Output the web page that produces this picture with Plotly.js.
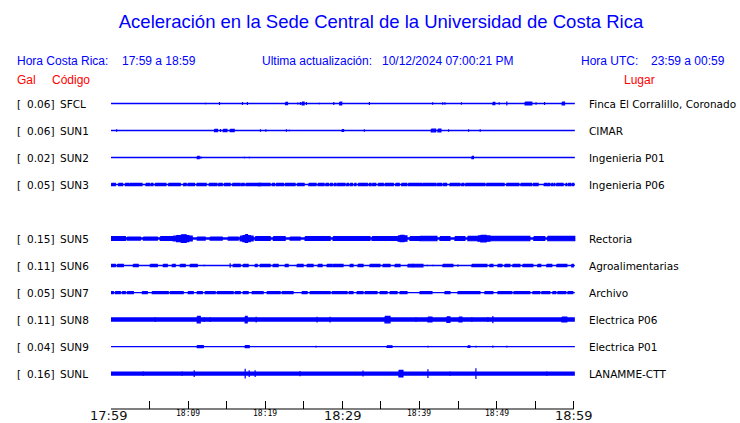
<!DOCTYPE html>
<html><head><meta charset="utf-8">
<script src="https://cdn.plot.ly/plotly-3.0.1.min.js"></script>
<style>body{margin:0;background:#fff}</style>
</head><body><div id="c" style="width:740px;height:423px"></div>
<script>
// ---------------- DATA ----------------
const codes  = ['SFCL','SUN1','SUN2','SUN3','SUN5','SUN6','SUN7','SUN8','SUN9','SUNL'];
const galMax = ['0.06','0.06','0.02','0.05','0.15','0.11','0.05','0.11','0.04','0.16'];
const places = ['Finca El Corralillo, Coronado','CIMAR','Ingenieria P01','Ingenieria P06',
                'Rectoria','Agroalimentarias','Archivo','Electrica P06','Electrica P01','LANAMME-CTT'];
const rowIdx = [0,1,2,3,5,6,7,8,9,10];
const tickMinutes = [0,5,10,15,20,25,30,35,40,45,50,55,60];
const labelMinutes = [0,10,20,30,40,50,60];
const labelText = ['17:59','18:09','18:19','18:29','18:39','18:49','18:59'];
const labelMajor = [true,false,false,true,false,false,true];
const traceEnd = 60.15; // minutes

// events: [start minute, end minute, half amplitude (relative units)]
const ev_SFCL = [[12.25,12.25,0.8],[14.07,14.07,1.4],[17.05,17.05,1.4],[17.69,17.69,1.4],[22.63,22.89,1.1],
 [24.22,24.22,1.1],[24.56,24.56,1.4],[24.78,25.04,1.4],[25.34,25.34,1.4],[27.02,27.02,0.8],[28.89,28.89,1.4],
 [29.66,29.92,1.4],[33.50,33.50,1.4],[41.71,41.71,1.3],[43.01,43.01,1.3],[43.30,43.30,1.3],[45.44,45.44,1.3],
 [49.52,49.77,1.1],[50.34,50.34,1.3],[51.33,51.33,2.0],[53.70,54.57,1.4],[55.12,55.12,1.3],[56.22,56.22,1.4],
 [58.50,58.81,1.3]];
const ev_SUN1 = [[0.73,0.73,1.3],[13.42,13.81,1.1],[14.20,14.20,1.4],[14.55,15.03,1.1],[15.45,15.97,1.1],
 [19.38,19.38,1.3],[20.08,20.08,1.3],[22.75,22.75,1.3],[23.13,23.13,0.8],[29.96,30.16,0.8],[32.85,32.85,1.3],
 [40.36,40.36,0.5],[41.53,42.10,1.3],[42.40,42.78,1.3],[43.78,43.78,1.3],[46.37,46.37,1.3],[47.88,47.88,1.3]];
const ev_SUN2 = [[11.18,11.44,1.1],[11.66,11.66,1.1],[17.31,17.31,0.8],[17.95,17.95,0.8],[46.80,47.00,1.1]];
const ev_SUN3 = [[0.04,0.56,1.1],[0.98,1.50,1.1],[1.85,2.28,1.1],[2.41,4.02,1.1],[4.53,5.00,1.1],[5.18,5.44,1.1],
 [5.74,7.12,1.1],[7.46,8.98,1.1],[9.40,9.75,1.1],[9.97,10.83,1.1],[11.14,12.34,1.1],[11.20,11.20,1.4],[12.73,13.73,1.1],
 [13.94,14.42,1.1],[14.68,15.45,1.1],[15.75,16.75,1.1],[16.92,17.27,1.1],[17.49,19.34,1.1],[19.12,20.63,1.1],
 [20.89,21.19,1.1],[21.41,22.36,1.1],[22.58,23.87,1.1],[24.17,25.04,1.1],[25.65,26.59,1.1],[26.85,27.63,1.1],
 [27.85,28.19,1.1],[28.41,28.70,1.1],[28.93,29.18,1.1],[29.35,30.35,1.1],[30.57,30.78,1.1],[31.00,31.30,1.1],
 [31.55,31.77,1.1],[32.07,33.24,1.1],[33.46,33.72,1.1],[33.89,34.33,1.1],[34.66,35.31,1.1],[35.53,36.61,1.1],
 [36.92,37.38,1.1],[37.69,38.34,1.1],[38.55,40.28,1.1],[40.41,42.14,1.1],[42.31,42.88,1.1],[43.08,43.52,1.1],
 [43.95,45.25,1.1],[45.47,45.76,1.1],[45.98,48.49,1.1],[48.70,50.98,1.1],[51.30,52.89,1.1],[53.15,54.53,1.1],
 [54.74,55.39,1.1],[56.17,56.48,1.1],[56.61,56.91,1.1],[57.12,57.25,1.1],[57.42,57.55,1.1],[57.77,58.63,1.1],
 [58.98,59.07,1.1],[59.27,59.62,1.1],[59.79,60.01,1.1]];
const ev_SUN5 = [[0.00,1.86,1.9],[2.09,3.80,1.5],[4.20,6.00,1.5],[6.39,8.07,1.9],[8.07,10.53,2.4],[8.50,10.10,3.0],
 [9.11,9.75,3.8],[11.18,12.21,1.5],[12.86,14.42,1.5],[15.19,16.49,1.5],[16.75,18.43,2.4],[17.10,18.05,3.0],
 [17.40,17.70,3.9],[18.70,20.64,1.9],[21.05,22.58,1.9],[23.23,24.52,1.5],[25.17,28.41,1.9],[28.80,33.58,1.9],
 [33.85,37.22,1.9],[37.22,38.38,2.6],[37.50,38.00,3.2],[38.77,40.06,1.9],[40.06,42.27,2.2],[42.66,43.95,1.9],
 [44.60,45.89,1.9],[46.28,47.58,2.2],[47.58,49.13,2.6],[47.95,48.65,3.3],[49.13,54.31,2.2],[54.83,56.25,1.9],
 [56.64,60.14,2.2]];
const ev_SUN6 = [[0.00,0.56,1.1],[0.82,1.59,1.1],[2.89,3.53,1.1],[5.09,6.00,1.1],[6.77,7.29,1.1],[7.94,8.33,1.1],
 [8.98,9.62,1.1],[10.27,11.18,1.1],[12.09,12.09,0.8],[15.45,15.45,2.3],[15.84,16.75,1.1],[17.14,17.78,1.1],
 [18.69,18.95,1.1],[19.34,20.63,1.1],[21.02,21.67,1.1],[22.58,22.97,1.1],[24.13,24.91,1.1],[25.43,26.20,1.1],
 [26.85,27.37,1.1],[28.02,28.67,1.1],[28.80,30.09,1.1],[31.00,31.38,1.1],[32.03,32.68,1.1],[33.58,34.87,1.1],
 [35.27,36.18,1.1],[36.83,37.47,1.1],[38.51,40.45,1.3],[39.16,39.16,1.7],[41.01,41.01,0.8],[41.75,41.75,0.8],
 [43.04,44.34,1.1],[44.99,44.99,1.1],[46.80,48.74,1.1],[49.13,49.52,1.1],[50.17,50.69,1.1],[51.07,51.72,1.1],
 [52.11,53.02,1.1],[53.41,54.71,1.1],[55.34,55.73,1.1],[56.51,57.16,1.1],[57.81,59.11,1.1],[59.75,59.95,1.3]];
const ev_SUN7 = [[0.00,0.30,1.1],[0.56,1.20,1.1],[1.46,1.85,1.1],[2.11,2.89,1.1],[4.06,4.70,1.1],[5.35,7.42,1.1],
 [7.68,9.36,1.1],[10.01,10.66,1.1],[11.18,11.83,1.1],[12.21,13.51,1.1],[13.77,15.84,1.1],[16.10,16.75,1.1],
 [17.14,17.78,1.1],[18.30,19.73,1.1],[20.25,21.93,1.1],[20.60,20.60,1.3],[22.19,23.61,1.1],[24.78,25.43,1.1],
 [25.82,28.41,1.1],[28.67,30.61,1.1],[30.87,31.38,1.1],[31.90,32.68,1.1],[32.94,34.49,1.1],[34.88,35.79,1.1],
 [36.18,37.09,1.1],[37.47,38.38,1.1],[40.06,41.62,1.1],[43.30,43.95,1.1],[44.99,47.84,1.1],[48.48,49.52,1.1],
 [50.17,51.98,1.1],[52.24,54.31,1.1],[54.70,55.60,1.1],[55.86,56.90,1.1],[57.29,57.68,1.1],[57.94,58.98,1.1],
 [59.24,59.88,1.1]];
const ev_SUN8 = [[5.74,5.74,2.4],[11.18,11.57,3.2],[12.09,12.09,2.4],[12.86,12.86,2.4],[17.40,17.66,3.2],
 [18.82,18.82,2.8],[26.72,26.72,2.8],[28.41,28.41,2.8],[35.53,36.18,3.2],[39.55,39.55,2.4],[41.10,41.62,2.4],
 [43.56,43.95,2.8],[45.12,45.51,2.4],[46.80,46.80,2.4],[48.87,48.87,2.4],[49.52,49.52,3.6],[58.47,59.11,2.4]];
const ev_SUN9 = [[11.18,11.96,1.1],[17.40,17.92,1.1],[26.59,26.59,0.8],[35.79,36.44,0.8],[41.10,41.10,0.8],
 [46.28,46.54,0.8],[47.32,47.32,0.8],[49.52,49.52,1.1],[51.33,51.33,0.8]];
const ev_SUNL = [[4.18,4.18,2.2],[9.24,9.24,2.2],[10.79,10.79,3.3],[17.40,17.40,4.8],[17.92,17.92,3.3],
 [18.69,18.69,3.3],[24.52,24.52,2.6],[32.68,32.68,3.0],[37.34,37.86,3.3],[41.10,41.10,4.3],[43.95,43.95,2.2],
 [47.32,47.32,5.3],[56.51,56.51,2.2]];
const events = [ev_SFCL,ev_SUN1,ev_SUN2,ev_SUN3,ev_SUN5,ev_SUN6,ev_SUN7,ev_SUN8,ev_SUN9,ev_SUNL];

// ---------------- STYLE / LAYOUT ----------------
const baseW = [1.4,1.4,1.4,1.4,2.4,1.4,1.4,4.5,1.4,4.2];
const AMP = 1/27;
const BLUE = '#0000ff', RED = '#ff0000';
const W = 740, H = 423, ML = 111, MR = 164, MT = 90, MB = 14;
const PW = W - ML - MR, PH = H - MT - MB;
const px = v => (v - ML) / PW;
const py = v => (H - MB - v) / PH;

const traces = [];
codes.forEach((c, i) => {
  const r = rowIdx[i];
  traces.push({x:[0, traceEnd], y:[r, r], mode:'lines', type:'scatter',
    line:{color:BLUE, width:baseW[i]}, hoverinfo:'skip', showlegend:false});
  const xs = [], ys = [];
  events[i].forEach(([t0, t1, a]) => {
    const h = a * AMP;
    xs.push(t0, t1, t1, t0, t0, null);
    ys.push(r - h, r - h, r + h, r + h, r - h, null);
  });
  traces.push({x:xs, y:ys, mode:'lines', type:'scatter', fill:'toself', fillcolor:BLUE,
    line:{color:BLUE, width:1.2}, hoverinfo:'skip', showlegend:false});
});

const ann = [];
const hdr = {family:'"Liberation Sans", Arial, sans-serif', size:12, color:BLUE};
const add = (text, x, y, font, xanchor) => ann.push({text, x, y, xref:'paper', yref:'paper',
  xanchor:xanchor||'left', yanchor:'middle', showarrow:false, font});
add('Hora Costa Rica:', px(15), py(61), hdr);
add('17:59 a 18:59', px(120), py(61), hdr);
add('Ultima actualización:', px(260), py(61), hdr);
add('10/12/2024 07:00:21 PM', px(380), py(61), hdr);
add('Hora UTC:', px(579), py(61), hdr);
add('23:59 a 00:59', px(649), py(61), hdr);
const red = {family:'"Liberation Sans", Arial, sans-serif', size:12, color:RED};
add('Gal', px(15), py(80), red);
add('Código', px(50), py(80), red);
add('Lugar', px(622), py(80), red);

const lab = {family:'"DejaVu Sans", sans-serif', size:10.5, color:'#000'};
codes.forEach((c, i) => {
  ann.push({text:'[', x:px(15), y:rowIdx[i], xref:'paper', yref:'y', xanchor:'left', yanchor:'middle', showarrow:false, font:lab});
  ann.push({text:galMax[i] + ']', x:px(56), y:rowIdx[i], xref:'paper', yref:'y', xanchor:'right', yanchor:'middle', showarrow:false, font:lab});
  ann.push({text:c, x:px(58), y:rowIdx[i], xref:'paper', yref:'y', xanchor:'left', yanchor:'middle', showarrow:false, font:lab});
  ann.push({text:places[i], x:px(587), y:rowIdx[i], xref:'paper', yref:'y', xanchor:'left', yanchor:'middle', showarrow:false, font:lab});
});
labelMinutes.forEach((m, i) => {
  ann.push({text:labelText[i], x:m, y:labelMajor[i] ? py(415) : py(413), xref:'x', yref:'paper',
    xanchor:'center', yanchor:'middle', showarrow:false, xshift: i === 0 ? -3 : 0,
    font: labelMajor[i] ? {family:'"DejaVu Sans", sans-serif', size:13, color:'#111'}
                        : {family:'"DejaVu Sans Mono", monospace', size:8, color:'#000'}});
});

const layout = {
  width:W, height:H, margin:{l:ML, r:MR, t:MT, b:MB},
  paper_bgcolor:'#fff', plot_bgcolor:'#fff', showlegend:false, hovermode:false,
  title:{text:'Aceleración en la Sede Central de la Universidad de Costa Rica',
    font:{family:'"Liberation Sans", Arial, sans-serif', size:18.5, color:BLUE},
    x:381/W, xanchor:'center', xref:'container', y:1 - 22/H, yanchor:'middle', yref:'container'},
  xaxis:{range:[0, 60.3], showgrid:false, zeroline:false, showline:false,
    ticks:'inside', ticklen:8, tickwidth:1, tickcolor:'#000',
    tickmode:'array', tickvals:tickMinutes, showticklabels:false, fixedrange:true},
  yaxis:{range:[11.31, -0.5], visible:false, fixedrange:true},
  shapes:[{type:'line', xref:'x', yref:'paper', x0:0, x1:60, y0:0, y1:0, line:{color:'#000', width:1}}],
  annotations:ann
};
Plotly.newPlot('c', traces, layout, {staticPlot:true, displayModeBar:false});
</script></body></html>
